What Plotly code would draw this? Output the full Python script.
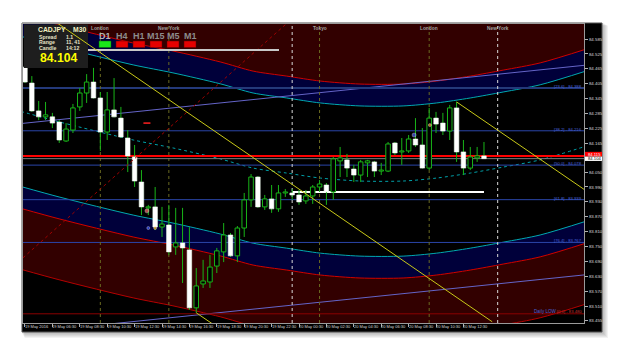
import plotly.graph_objects as go

# ---------------- data (CADJPY M30, bars from 19 May 2016 04:30, 30 min each) ----------------
opens = [84.472, 84.408, 84.296, 84.272, 84.272, 84.251, 84.175, 84.219, 84.312, 84.368,
         84.412, 84.348, 84.211, 84.300, 84.267, 84.187, 84.111, 84.010, 83.906, 83.910,
         83.829, 83.837, 83.749, 83.765, 83.737, 83.504, 83.600, 83.608, 83.672, 83.729,
         83.797, 83.713, 83.825, 83.938, 84.030, 83.910, 83.942, 83.902, 83.966, 83.966,
         83.958, 83.934, 83.954, 83.990, 83.998, 83.970, 84.095, 84.099, 84.062, 84.038,
         84.087, 84.091, 84.054, 84.054, 84.167, 84.131, 84.135, 84.183, 84.159, 84.066,
         84.267, 84.247, 84.215, 84.308, 84.131, 84.066, 84.107, 84.115]
highs = [84.480, 84.436, 84.336, 84.332, 84.288, 84.259, 84.247, 84.324, 84.388, 84.444,
         84.469, 84.372, 84.372, 84.428, 84.312, 84.219, 84.159, 84.058, 83.918, 83.990,
         83.910, 83.918, 83.906, 83.906, 83.829, 83.664, 83.697, 83.717, 83.745, 83.845,
         83.805, 83.833, 83.966, 84.042, 84.034, 83.958, 83.998, 83.998, 83.982, 83.982,
         83.978, 83.978, 83.998, 84.018, 84.006, 84.111, 84.151, 84.123, 84.079, 84.099,
         84.099, 84.095, 84.087, 84.171, 84.171, 84.187, 84.199, 84.267, 84.227, 84.308,
         84.292, 84.288, 84.320, 84.332, 84.179, 84.151, 84.151, 84.171]
lows = [84.408, 84.292, 84.259, 84.259, 84.227, 84.167, 84.171, 84.207, 84.296, 84.328,
        84.346, 84.135, 84.179, 84.270, 84.187, 84.050, 83.990, 83.877, 83.877, 83.817,
        83.789, 83.717, 83.717, 83.604, 83.496, 83.484, 83.584, 83.584, 83.644, 83.688,
        83.709, 83.688, 83.789, 83.910, 83.906, 83.898, 83.886, 83.890, 83.950, 83.938,
        83.918, 83.922, 83.922, 83.970, 83.918, 83.938, 84.030, 84.030, 84.010, 84.010,
        84.030, 84.030, 84.038, 84.050, 84.119, 84.079, 84.127, 84.151, 84.064, 84.058,
        84.207, 84.199, 84.179, 84.091, 84.038, 84.058, 84.091, 84.103]
closes = [84.412, 84.296, 84.272, 84.280, 84.247, 84.179, 84.223, 84.308, 84.368, 84.412,
          84.348, 84.211, 84.300, 84.272, 84.191, 84.115, 84.014, 83.910, 83.910, 83.829,
          83.841, 83.729, 83.765, 83.745, 83.504, 83.592, 83.612, 83.668, 83.733, 83.797,
          83.713, 83.825, 83.938, 84.030, 83.910, 83.942, 83.902, 83.966, 83.970, 83.958,
          83.930, 83.954, 83.990, 84.002, 83.970, 84.103, 84.107, 84.066, 84.038, 84.091,
          84.095, 84.054, 84.058, 84.163, 84.127, 84.135, 84.183, 84.159, 84.066, 84.267,
          84.243, 84.215, 84.308, 84.131, 84.066, 84.111, 84.115, 84.104]

time_label_bars = [0, 4, 8, 12, 16, 20, 24, 28, 32, 36, 40, 44, 48, 52, 56, 60, 64]
time_labels = ["19 May 2016", "19 May 06:30", "19 May 08:30", "19 May 10:30", "19 May 12:30",
               "19 May 14:30", "19 May 16:30", "19 May 18:30", "19 May 20:30", "19 May 22:30",
               "20 May 00:30", "20 May 02:30", "20 May 04:30", "20 May 06:30", "20 May 08:30",
               "20 May 10:30", "20 May 12:30"]
price_tick_text = ["84.585", "84.525", "84.465", "84.405", "84.345", "84.285", "84.225", "84.165",
                   "84.050", "83.990", "83.930", "83.870", "83.810", "83.750", "83.690", "83.630",
                   "83.570", "83.510", "83.455"]
price_ticks = [float(t) for t in price_tick_text]

# polynomial regression channel (centre curve) and band offsets
chan_x = [-0.6, 5.1, 15.8, 21.6, 28.5, 33.3, 38.2, 43.1, 48.9, 55.2, 60.1, 65.0, 69.8, 75.2, 82.2]
chan_mid = [84.294, 84.251, 84.179, 84.147, 84.103, 84.066, 84.046, 84.026, 84.014, 84.014,
            84.026, 84.046, 84.070, 84.099, 84.157]
band_inner, band_mid, band_outer = 0.302, 0.390, 0.635

# linear regression channel
lin_x = [-0.6, 82.2]
lin_upper = [84.245, 84.481]
lin_lower = [83.402, 83.638]

# fibonacci levels
fib_names = ["[23.6]", "[38.2]", "[50.0]", "[61.8]", "[76.4]"]
fib_levels = [84.388, 84.216, 84.078, 83.939, 83.767]
daily_low = 83.480

ask, bid = 84.115, 84.104
white_line_bars = [39, 67]
white_line_price = 83.970

session_bars = [11, 21, 43, 59, 69]
session_names = ["London", "New York", "Tokyo", "London", "New York"]
day_sep_bars = [39, 69]

trend_a = ([4.67, 68.2], [84.650, 83.448])
trend_b = ([63.0, 82.0], [84.332, 83.973])
trend_c = ([25.0, 27.5], [83.484, 83.437])
red_dot_line = ([-0.3, 38.3], [83.705, 84.650])

mark_x = [17.8, 18.0, 19.0, 56.8, 59.1]
mark_y = [83.894, 83.825, 83.825, 84.199, 84.239]
mark_c = ["#ff7070", "#3050ff", "#ffa020", "#5060ff", "#ffa020"]

# ---------------- layout geometry ----------------
W, H = 625, 355
PL, PR, PT, PB = 23, 584, 24, 323
X_RANGE = [-0.29, 81.6]
Y_RANGE = [83.443, 84.6455]


def px(x):
    return (x - PL) / (PR - PL)


def py(y):
    return (PB - y) / (PB - PT)


def ypx(p):
    return PB - (p - Y_RANGE[0]) / (Y_RANGE[1] - Y_RANGE[0]) * (PB - PT)


MAROON = "#320000"
NAVY = "#00003a"
RED = "#d00000"
CYAN = "#00a8b0"
GREEN = "#18b418"
XL = [X_RANGE[0] - 1, X_RANGE[1] + 1]

fig = go.Figure()


def off(vals, d):
    return [v + d for v in vals]


sp = dict(shape="spline", smoothing=0.8)
fig.add_trace(go.Scatter(x=chan_x, y=off(chan_mid, band_outer), mode="lines",
                         line=dict(color="#b00000", width=1, **sp)))
fig.add_trace(go.Scatter(x=chan_x, y=off(chan_mid, band_mid), mode="lines", fill="tonexty",
                         fillcolor=MAROON, line=dict(color=RED, width=1, **sp)))
fig.add_trace(go.Scatter(x=chan_x, y=off(chan_mid, band_inner), mode="lines", fill="tonexty",
                         fillcolor=NAVY, line=dict(color=CYAN, width=1, **sp)))
fig.add_trace(go.Scatter(x=chan_x, y=off(chan_mid, -band_inner), mode="lines",
                         line=dict(color=CYAN, width=1, **sp)))
fig.add_trace(go.Scatter(x=chan_x, y=off(chan_mid, -band_mid), mode="lines", fill="tonexty",
                         fillcolor=NAVY, line=dict(color=RED, width=1, **sp)))
fig.add_trace(go.Scatter(x=chan_x, y=off(chan_mid, -band_outer), mode="lines", fill="tonexty",
                         fillcolor=MAROON, line=dict(color="#b40000", width=1, **sp)))
fig.add_trace(go.Scatter(x=chan_x, y=chan_mid, mode="lines",
                         line=dict(color="#00a0a8", width=1, dash="dot", **sp)))

# linear channel
fig.add_trace(go.Scatter(x=lin_x, y=lin_upper, mode="lines", line=dict(color="#6464c8", width=1)))
fig.add_trace(go.Scatter(x=lin_x, y=lin_lower, mode="lines", line=dict(color="#6464c8", width=1)))

# fib levels
for k, lv in enumerate(fib_levels):
    fig.add_trace(go.Scatter(x=XL, y=[lv, lv], mode="lines",
                             line=dict(color="#24397a" if k == 0 else "#2a45a8",
                                       width=2 if k == 0 else 1)))
fig.add_trace(go.Scatter(x=XL, y=[daily_low, daily_low], mode="lines",
                         line=dict(color="#8a0000", width=1)))

# session / day separators
for b in session_bars[:4]:
    fig.add_trace(go.Scatter(x=[b, b], y=Y_RANGE, mode="lines",
                             line=dict(color="#6a6a20", width=1, dash="dot")))
for b in day_sep_bars:
    fig.add_trace(go.Scatter(x=[b, b], y=Y_RANGE, mode="lines",
                             line=dict(color="#d8d8d8", width=1, dash="dot")))

# ask / bid lines
fig.add_trace(go.Scatter(x=XL, y=[ask, ask], mode="lines", line=dict(color="#ff0000", width=2)))
fig.add_trace(go.Scatter(x=XL, y=[bid, bid], mode="lines", line=dict(color="#7a7a7a", width=1)))

# white horizontal level
fig.add_trace(go.Scatter(x=white_line_bars, y=[white_line_price] * 2, mode="lines",
                         line=dict(color="#ffffff", width=2)))

# candles: wicks then bodies (as scatter polygons so they stay above the channel fills)
bars = list(range(len(opens)))
wx, wy = [], []
for i in bars:
    wx += [i, i, None]
    wy += [lows[i], highs[i], None]
fig.add_trace(go.Scatter(x=wx, y=wy, mode="lines", line=dict(color=GREEN, width=1)))

HW = 0.33
MIN_BODY = 0.0015


def body_paths(idx):
    xs, ys = [], []
    for i in idx:
        lo = min(opens[i], closes[i])
        hi = max(opens[i], closes[i])
        if hi - lo < MIN_BODY:
            hi = lo + MIN_BODY
        xs += [i - HW, i + HW, i + HW, i - HW, i - HW, None]
        ys += [lo, lo, hi, hi, lo, None]
    return xs, ys


bull = [i for i in bars if closes[i] >= opens[i]]
bear = [i for i in bars if closes[i] < opens[i]]
bx, by = body_paths(bull)
fig.add_trace(go.Scatter(x=bx, y=by, mode="lines", fill="toself", fillcolor="#000000",
                         line=dict(color=GREEN, width=1)))
dx, dy = body_paths(bear)
fig.add_trace(go.Scatter(x=dx, y=dy, mode="lines", fill="toself", fillcolor="#ffffff",
                         line=dict(color="#f0fff0", width=0.6)))

# trend lines
fig.add_trace(go.Scatter(x=trend_b[0], y=trend_b[1], mode="lines", line=dict(color="#c8c818", width=1)))
fig.add_trace(go.Scatter(x=trend_c[0], y=trend_c[1], mode="lines", line=dict(color="#c8c818", width=1)))
fig.add_trace(go.Scatter(x=red_dot_line[0], y=red_dot_line[1], mode="lines",
                         line=dict(color="#a00000", width=1, dash="dot")))

fig.add_trace(go.Scatter(x=mark_x, y=mark_y, mode="markers",
                         marker=dict(color=mark_c, size=[4, 3, 3, 4, 3],
                                     line=dict(color="#ffffff", width=0.5))))
fig.add_trace(go.Scatter(x=[17.8], y=[84.247], mode="markers",
                         marker=dict(symbol="line-ew", size=5, line=dict(color="#ff2020", width=1.5))))

# ---------------- shapes ----------------
shapes = []
for k in range(1, 7):
    shapes.append(dict(type="rect", xref="paper", yref="paper", layer="below",
                       x0=px(22 - 1 + k * 0.6), x1=px(602 + k), y0=py(332 + k), y1=py(23 - 1 + k * 0.6),
                       fillcolor="rgba(0,0,0,0.05)", line=dict(width=0)))
shapes.append(dict(type="rect", xref="paper", yref="paper", layer="below",
                   x0=px(22), x1=px(602), y0=py(332), y1=py(23),
                   fillcolor="#000000", line=dict(color="#555555", width=1)))
# info panel
shapes.append(dict(type="rect", xref="paper", yref="paper", layer="above",
                   x0=px(24), x1=px(88), y0=py(68), y1=py(24.5),
                   fillcolor="#1e1e1e", line=dict(width=0)))
# timeframe boxes
tf_names = ["D1", "H4", "H1", "M15", "M5", "M1"]
tf_x0 = [99, 116, 133, 150, 167, 184]
tf_col = ["#19e619", "#e60000", "#e60000", "#e60000", "#e60000", "#e60000"]
for x0, c in zip(tf_x0, tf_col):
    shapes.append(dict(type="rect", xref="paper", yref="paper", layer="above",
                       x0=px(x0), x1=px(x0 + 12), y0=py(47.5), y1=py(41),
                       fillcolor=c, line=dict(color="#600000" if c != tf_col[0] else "#0a600a", width=0.5)))
shapes.append(dict(type="line", xref="paper", yref="paper", layer="above",
                   x0=px(88), x1=px(279), y0=py(50), y1=py(50),
                   line=dict(color="#c8c8c8", width=2)))
# yellow trend line A crosses the info panel
shapes.append(dict(type="line", xref="x", yref="y", layer="above",
                   x0=trend_a[0][0], x1=trend_a[0][1], y0=trend_a[1][0], y1=trend_a[1][1],
                   line=dict(color="#c8c818", width=1)))
# price boxes
yb = ypx(bid)
shapes.append(dict(type="rect", xref="paper", yref="paper", layer="above",
                   x0=px(585), x1=px(602), y0=py(yb + 2.3), y1=py(yb - 2.3),
                   fillcolor="#ffffff", line=dict(width=0)))
shapes.append(dict(type="rect", xref="paper", yref="paper", layer="above",
                   x0=px(585), x1=px(602), y0=py(yb - 2.3), y1=py(yb - 6.8),
                   fillcolor="#ff0000", line=dict(width=0)))

# ---------------- annotations ----------------
ann = []
F = "Liberation Sans, Arial, sans-serif"


def txt(x, y, s, size, color, anchor="left", bold=False):
    ann.append(dict(x=px(x), y=py(y), xref="paper", yref="paper",
                    text=f"<b>{s}</b>" if bold else s, showarrow=False,
                    xanchor=anchor, yanchor="middle", borderpad=0,
                    font=dict(size=size, color=color, family=F)))


for b, t in zip(time_label_bars, time_labels):
    txt(25 + b * 6.85 - 1, 326.5, t, 4.0, "#d8d8d8")

txt(37, 30, "CADJPY", 6.8, "#f4f0c0", bold=True)
txt(72, 30, "M30", 6.8, "#f4f0c0", bold=True)
for yy, a, b in [(36.8, "Spread", "1.1"), (42.5, "Range", "11, 41"), (48.2, "Candle", "14:12")]:
    txt(38, yy, a, 5.2, "#e6e2c8", bold=True)
    txt(64.5, yy, b, 5.2, "#e6e2c8", bold=True)
txt(39, 58, "84.104", 12.2, "#ffff00", bold=True)

for x0, n in zip(tf_x0, tf_names):
    txt(x0 + 6, 36.5, n, 9, "#b4b4b4" if n == "D1" else "#8c8c8c", anchor="center", bold=True)

for b, n in zip(session_bars, session_names):
    txt(25 + b * 6.85, 29, n, 4.8, "#a0a0a0", anchor="center", bold=True)

for n, lv in zip(fib_names, fib_levels):
    txt(582.5, ypx(lv) - 1.5, f"{n} - {lv:.3f}", 4.2, "#4862d8", anchor="right")
txt(582.5, ypx(daily_low) - 2.5, f"[0.0] - {daily_low:.3f}", 4.2, "#c83030", anchor="right")
txt(558, ypx(daily_low) - 2.5, "Daily LOW", 4.6, "#4862d8", anchor="right")

txt(587, yb, f"{bid:.3f}", 4.2, "#000000")
txt(587, yb - 4.5, f"{ask:.3f}", 4.2, "#ffffff")

fig.update_layout(
    width=W, height=H,
    margin=dict(l=PL, r=W - PR, t=PT, b=H - PB, pad=0),
    paper_bgcolor="#ffffff", plot_bgcolor="#000000",
    showlegend=False, hovermode=False,
    shapes=shapes, annotations=ann,
    font=dict(family=F),
    xaxis=dict(range=X_RANGE, showgrid=False, zeroline=False, showline=True, mirror=True,
               linecolor="#9a9a9a", linewidth=1, tickvals=time_label_bars,
               showticklabels=False, ticks="outside", ticklen=3, tickcolor="#b0b0b0"),
    yaxis=dict(range=Y_RANGE, side="right", showgrid=False, zeroline=False, showline=True,
               mirror=True, linecolor="#9a9a9a", linewidth=1, tickvals=price_ticks,
               ticktext=price_tick_text, ticks="outside", ticklen=3, tickcolor="#b0b0b0",
               tickfont=dict(size=4.4, color="#d8d8d8", family=F)),
)

fig.write_html("out.html")
